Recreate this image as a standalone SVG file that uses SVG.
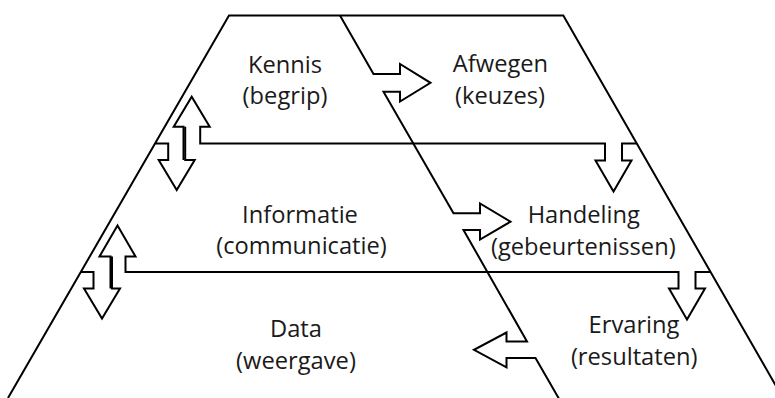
<svg xmlns="http://www.w3.org/2000/svg" width="775" height="398" viewBox="0 0 775 398">
<style>
.ln{fill:none;stroke:#000;stroke-width:2;stroke-linejoin:miter;stroke-linecap:butt}
.lb{font-family:"Open Sans","Liberation Sans",sans-serif;font-size:23.7px;fill:#1a1a1a;text-anchor:middle}
</style>
<rect width="775" height="398" fill="#fff"/>
<g id="outline">
<path class="ln" d="M8,398 L229,15.5 L563.3,15.5 L782.9,398"/>
</g>
<g id="connectors">
<path class="ln" d="M340,15.5 L373.5,74 L400,74 L400,64 L430.5,82.8 L400,101.5 L400,91.7 L383.5,91.7 L453.5,213.3 L480,213.3 L480,203.5 L510.5,221.7 L480,239.5 L480,230 L463.5,230 L527,341.5 L506.5,341.5 L506.5,332.5 L474,349.8 L506.5,367.3 L506.5,358 L535.5,358 L559.7,400"/>
<path class="ln" d="M183.5,160 L183.5,126.8 L173.7,126.8 L191.7,96.8 L209.7,126.8 L200.2,126.8 L200.2,143.5 L605,143.5 L605,160.5 L595.5,160.5 L613.5,191.5 L631.5,160.5 L622,160.5 L622,143.5 L637,143.5"/>
<path class="ln" d="M155.5,143.5 L168.2,143.5 L168.2,160 L158.7,160 L176.7,190 L194.7,160 L185.2,160 L185.2,126.8"/>
<path class="ln" d="M110.5,288.5 L110.5,256.5 L99.5,256.5 L117.5,225.5 L135.5,256.5 L125.5,256.5 L125.5,272 L678.5,272 L678.5,288.5 L669,288.5 L687,319.5 L705,288.5 L695.5,288.5 L695.5,272 L710.5,272"/>
<path class="ln" d="M81,272 L93.5,272 L93.5,288.5 L84,288.5 L102,318.5 L120,288.5 L112,288.5 L112,256.5"/>
</g>
<g id="kennis"><text class="lb" x="285" y="72.5">Kennis</text><text class="lb" x="285" y="104">(begrip)</text></g>
<g id="afwegen"><text class="lb" x="500.5" y="71.7">Afwegen</text><text class="lb" x="500" y="103.5">(keuzes)</text></g>
<g id="informatie"><text class="lb" x="300" y="222.7">Informatie</text><text class="lb" x="301.5" y="254">(communicatie)</text></g>
<g id="handeling"><text class="lb" x="583.8" y="222.7">Handeling</text><text class="lb" x="583.3" y="254.5">(gebeurtenissen)</text></g>
<g id="data"><text class="lb" x="296" y="336.7">Data</text><text class="lb" x="296" y="368.5">(weergave)</text></g>
<g id="ervaring"><text class="lb" x="634" y="332.7">Ervaring</text><text class="lb" x="634.2" y="364.5">(resultaten)</text></g>
</svg>
